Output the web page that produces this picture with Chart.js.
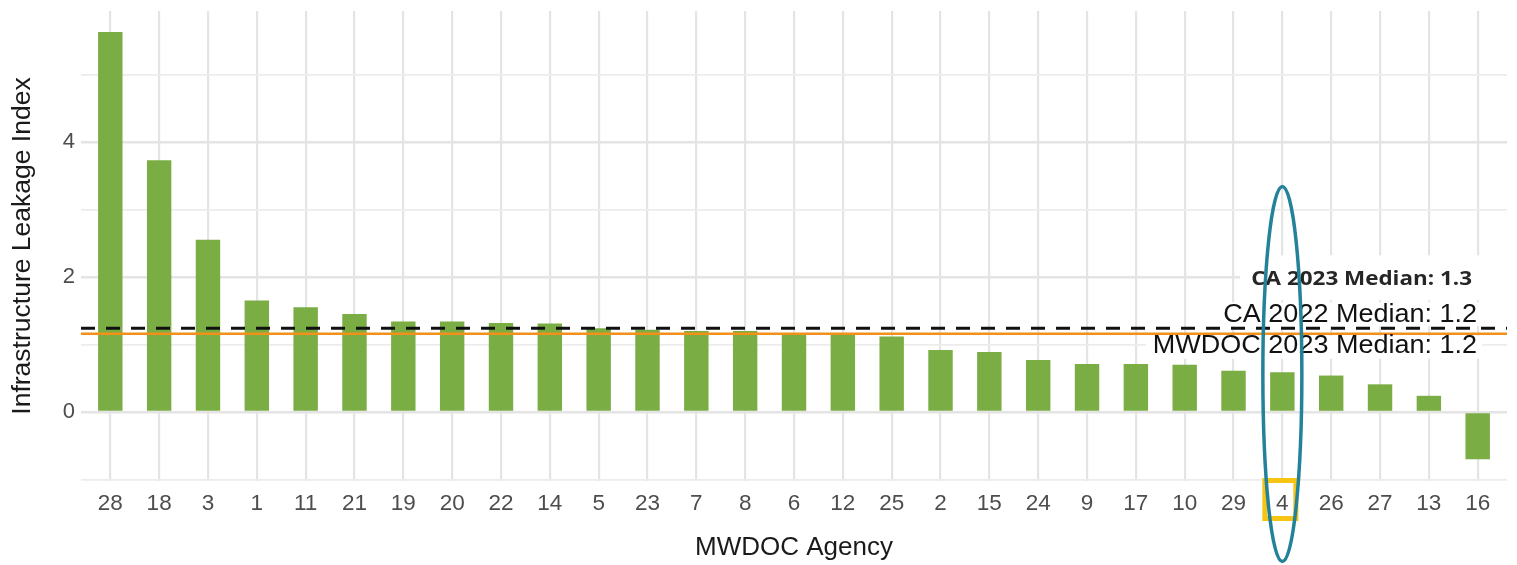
<!DOCTYPE html>
<html><head><meta charset="utf-8">
<script src="https://cdn.jsdelivr.net/npm/chart.js@4.4.1/dist/chart.umd.min.js"></script>
<style>html,body{margin:0;padding:0;background:#fff;}#wrap{width:1517px;height:565px;}</style>
</head><body><div id="wrap"><canvas id="c" width="1517" height="565"></canvas></div>
<script>
// ---- data ----
const categories = ['28','18','3','1','11','21','19','20','22','14','5','23','7','8','6','12','25','2','15','24','9','17','10','29','4','26','27','13','16'];
const iliValues  = [5.63,3.73,2.55,1.65,1.55,1.45,1.34,1.34,1.32,1.31,1.24,1.22,1.20,1.20,1.14,1.14,1.12,0.92,0.89,0.77,0.71,0.71,0.70,0.61,0.59,0.54,0.41,0.24,-0.70];
const yTickLabels = [0, 2, 4];
const refLineValues = [1.24, 1.16];
const refLineLabels = ['CA 2022 Median: 1.2', 'MWDOC 2023 Median: 1.2'];
const calloutLabel = 'CA 2023 Median: 1.3';
const highlightCategory = '4';
const yTitle = 'Infrastructure Leakage Index';
const xTitle = 'MWDOC Agency';

const FONT = "'Liberation Sans', Arial, sans-serif";
Chart.defaults.font.family = FONT;

const overlay = {
  id: 'overlay',
  beforeDatasetsDraw(chart) {
    const {ctx, scales: {x, y}} = chart;
    const y0 = y.getPixelForValue(refLineValues[0]);
    const y1 = y.getPixelForValue(refLineValues[1]);
    ctx.save();
    ctx.fillStyle = '#ffffff';
    // callout box
    ctx.fillRect(1240, y0 - 73, chart.width - 1240, 45);
    // label backgrounds
    ctx.fillRect(1220, y0 - 26, 262, 24);
    ctx.fillRect(1146, y1 + 2, 336, 23);
    ctx.restore();
  },
  afterDatasetsDraw(chart) {
    const {ctx, chartArea, scales: {x, y}} = chart;
    ctx.save();
    const styles = [
      {color: '#111111', width: 3, dash: [14, 11]},
      {color: '#F39019', width: 2.5, dash: []}
    ];
    refLineValues.forEach((v, i) => {
      const py = y.getPixelForValue(v);
      ctx.beginPath();
      ctx.setLineDash(styles[i].dash);
      ctx.strokeStyle = styles[i].color;
      ctx.lineWidth = styles[i].width;
      ctx.moveTo(chartArea.left, py);
      ctx.lineTo(chartArea.right, py);
      ctx.stroke();
    });
    ctx.setLineDash([]);
    const xr = chartArea.right - 30;
    ctx.fillStyle = '#111111';
    ctx.textAlign = 'right';
    ctx.textBaseline = 'alphabetic';
    const drawStretched = (t, px, py, font, sx) => {
      ctx.save();
      ctx.font = font;
      ctx.translate(px, py);
      ctx.scale(sx, 1);
      ctx.fillText(t, 0, 0);
      ctx.restore();
    };
    const y0 = y.getPixelForValue(refLineValues[0]);
    const y1 = y.getPixelForValue(refLineValues[1]);
    drawStretched(refLineLabels[0], xr, y0 - 6, "25px " + FONT, 1.08);
    drawStretched(refLineLabels[1], xr, y1 + 19, "25px " + FONT, 1.08);
    ctx.fillStyle = '#262626';
    drawStretched(calloutLabel, xr - 5, y0 - 43, "700 19.5px 'Open Sans', sans-serif", 1.15);
    ctx.restore();
  },
  afterDraw(chart) {
    const {ctx, chartArea, scales: {x, y}} = chart;
    const xc = x.getPixelForValue(categories.indexOf(highlightCategory));
    ctx.save();
    ctx.strokeStyle = '#F6C413';
    ctx.lineWidth = 5;
    ctx.strokeRect(xc - 17.5, chartArea.bottom - 0.5, 31, 38);
    const yt = y.getPixelForValue(3.34), yb = y.getPixelForValue(-2.215);
    ctx.beginPath();
    ctx.strokeStyle = '#23829A';
    ctx.lineWidth = 3.5;
    ctx.ellipse(xc, (yt + yb) / 2, 19.5, (yb - yt) / 2, 0, 0, Math.PI * 2);
    ctx.stroke();
    ctx.restore();
  }
};

new Chart(document.getElementById('c'), {
  type: 'bar',
  data: {
    datasets: [{
      data: iliValues.map((v, i) => ({x: i, y: v})),
      backgroundColor: '#7AAD43',
      borderWidth: 0,
      barPercentage: 0.5,
      categoryPercentage: 1.0
    }]
  },
  options: {
    responsive: false,
    animation: false,
    layout: {padding: {top: 11, right: 10, left: 0, bottom: 0}},
    plugins: {legend: {display: false}, tooltip: {enabled: false}},
    scales: {
      x: {
        type: 'linear',
        min: -0.6,
        max: categories.length - 1 + 0.6,
        offset: false,
        ticks: {
          stepSize: 1, autoSkip: false, maxRotation: 0, minRotation: 0, includeBounds: false,
          callback: (v) => categories[v] ?? '',
          font: {size: 22.5}, color: '#4d4d4d', padding: 9
        },
        grid: {color: '#e4e4e4', lineWidth: 2.2, drawTicks: false, offset: false},
        border: {display: false},
        title: {display: true, text: xTitle, font: {size: 26}, color: '#1a1a1a', padding: {top: 0, bottom: 2}},
        afterFit(s) { s.height = 84; }
      },
      y: {
        min: -1.022,
        max: 5.94,
        ticks: {
          stepSize: 1, includeBounds: false,
          callback: (v) => yTickLabels.includes(v) ? String(v) : '',
          font: {size: 22, lineHeight: 0.4}, color: '#4d4d4d', padding: 6
        },
        grid: {
          color: (c) => (yTickLabels.includes(c.tick && c.tick.value) ? '#e4e4e4' : '#ececec'),
          lineWidth: (c) => (yTickLabels.includes(c.tick && c.tick.value) ? 2.4 : 1.8),
          drawTicks: false
        },
        border: {display: false},
        title: {display: true, text: yTitle, font: {size: 26.5}, color: '#1a1a1a', padding: {top: 7, bottom: 0}},
        afterFit(s) { s.width = 81; }
      }
    }
  },
  plugins: [overlay]
});
</script></body></html>
